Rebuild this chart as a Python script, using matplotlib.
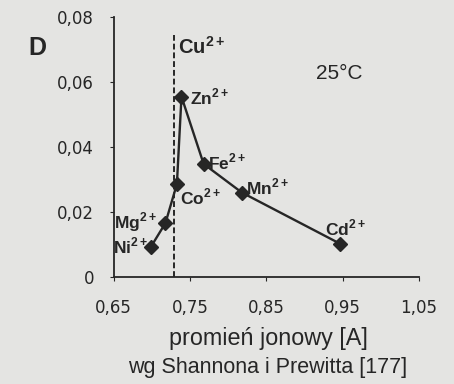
import matplotlib
matplotlib.use("Agg")
import matplotlib.pyplot as plt

# ionic radius [A] (Shannon & Prewitt) vs D, 25 C
ions = ["Ni", "Mg", "Co", "Zn", "Fe", "Mn", "Cd"]
radius = [0.699, 0.718, 0.733, 0.739, 0.768, 0.818, 0.947]
d_val = [0.0093, 0.0166, 0.0286, 0.0555, 0.0348, 0.0260, 0.0102]
cu_radius = 0.729
cu_top = 0.0745

x_ticks = [0.65, 0.75, 0.85, 0.95, 1.05]
y_ticks = [0, 0.02, 0.04, 0.06, 0.08]
x_tick_labels = ["0,65", "0,75", "0,85", "0,95", "1,05"]
y_tick_labels = ["0", "0,02", "0,04", "0,06", "0,08"]

# label offsets in points from the marker (dx, dy to baseline, ha)
label_pos = {
    "Ni": (-2, -4.7, "right"),
    "Mg": (-6, -4.0, "right"),
    "Co": (2, -14.8, "left"),
    "Zn": (6, -5.4, "left"),
    "Fe": (3, -4.0, "left"),
    "Mn": (3, -1.1, "left"),
    "Cd": (4, 6.1, "center"),
}

BG = "#e4e4e2"
INK = "#262626"
plt.rcParams["font.family"] = ["Liberation Sans", "DejaVu Sans"]
plt.rcParams["mathtext.fontset"] = "custom"
plt.rcParams["mathtext.rm"] = "Liberation Sans"
plt.rcParams["mathtext.bf"] = "Liberation Sans:bold"

fig = plt.figure(figsize=(4.54, 3.84), dpi=100, facecolor=BG)
ax = fig.add_axes([0.2500, 0.2786, 0.6730, 0.6771], facecolor=BG)

ax.plot(radius, d_val, color=INK, lw=1.7, marker="D", ms=7,
        markerfacecolor=INK, markeredgecolor=INK, zorder=3)
ax.plot([cu_radius, cu_radius], [0, cu_top], color=INK, lw=1.4,
        ls=(0, (3, 1.5)))

for ion, x, y in zip(ions, radius, d_val):
    dx, dy, ha = label_pos[ion]
    ax.annotate(ion + r"$^{\mathbf{2+}}$", (x, y), textcoords="offset points",
                xytext=(dx, dy), ha=ha, va="baseline", fontsize=12.5,
                fontweight="bold", color=INK, zorder=4)

ax.annotate(r"Cu$^{\mathbf{2+}}$", (cu_radius, 0.0686),
            textcoords="offset points", xytext=(3, 0), ha="left",
            va="baseline", fontsize=14.5, fontweight="bold", color=INK)
ax.text(0.9145, 0.0625, "25°C", ha="left", va="center", fontsize=15,
        color=INK)
fig.text(0.062, 1 - 48 / 384, "D", ha="left", va="center", fontsize=18,
         fontweight="bold", color=INK)

ax.set_xlim(0.65, 1.05)
ax.set_ylim(0, 0.08)
ax.set_xticks(x_ticks)
ax.set_xticklabels(x_tick_labels, family="DejaVu Sans", fontsize=12)
ax.set_yticks(y_ticks)
ax.set_yticklabels(y_tick_labels, family="DejaVu Sans", fontsize=12)
ax.tick_params(axis="x", length=3, pad=12.5, color=INK, labelcolor=INK)
ax.tick_params(axis="y", length=3, pad=11, color=INK, labelcolor=INK)
for s in ("top", "right"):
    ax.spines[s].set_visible(False)
for s in ("left", "bottom"):
    ax.spines[s].set_color(INK)
    ax.spines[s].set_linewidth(1.3)

fig.text(268 / 454, 1 - 338 / 384, "promień jonowy [A]", ha="center",
         va="center", fontsize=16.8, color=INK)
fig.text(268 / 454, 1 - 367 / 384, "wg Shannona i Prewitta [177]",
         ha="center", va="center", fontsize=15.5, color=INK)

fig.savefig("out.png", dpi=100, facecolor=BG)
